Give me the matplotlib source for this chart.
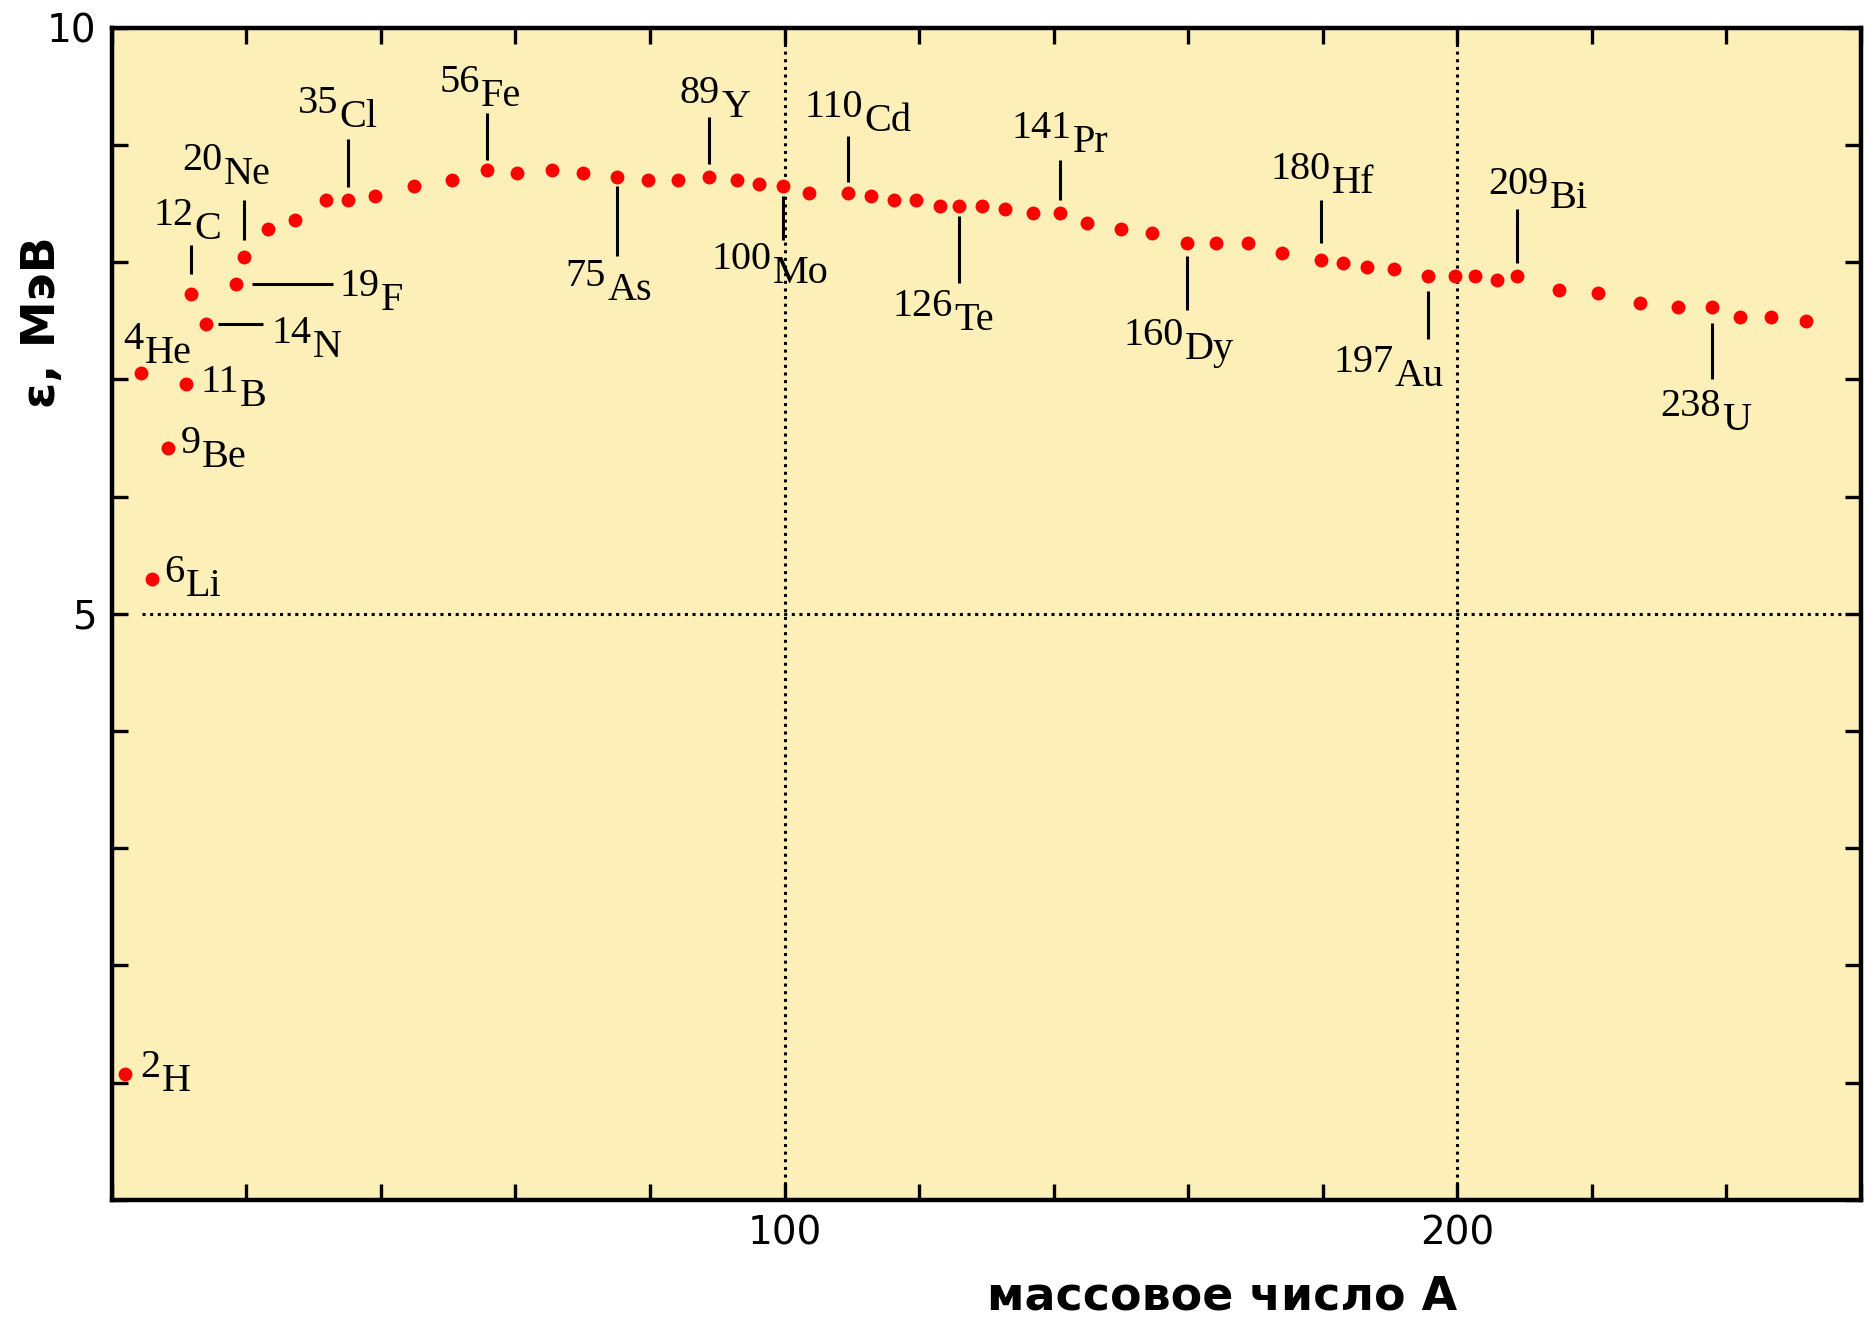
import matplotlib
matplotlib.use("Agg")
import matplotlib.pyplot as plt
from matplotlib.ticker import FixedLocator, FuncFormatter
from matplotlib.transforms import offset_copy

# ---- data: mass number A and binding energy per nucleon (MeV) ----
mass_number = [2.0, 4.3, 6.0, 8.3, 11.1, 11.8, 14.0, 18.5, 19.7, 23.2,
               27.2, 31.8, 35.1, 39.1, 44.9, 50.6, 55.7, 60.3, 65.4, 70.0,
               75.1, 79.7, 84.2, 88.8, 92.9, 96.2, 99.7, 103.7, 109.4, 112.8,
               116.3, 119.6, 123.1, 126.0, 129.4, 132.8, 136.9, 140.9, 144.9, 150.0,
               154.6, 159.8, 164.2, 168.9, 174.0, 179.7, 183.0, 186.5, 190.6, 195.7,
               199.7, 202.6, 205.9, 208.9, 215.1, 220.9, 227.1, 232.8, 237.9, 242.0,
               246.6, 251.8]
binding_energy = [1.07, 7.05, 5.30, 6.41, 6.96, 7.73, 7.47, 7.81, 8.04, 8.28,
                  8.36, 8.53, 8.53, 8.56, 8.65, 8.70, 8.79, 8.76, 8.79, 8.76,
                  8.73, 8.70, 8.70, 8.73, 8.70, 8.67, 8.65, 8.59, 8.59, 8.56,
                  8.53, 8.53, 8.48, 8.48, 8.48, 8.45, 8.42, 8.42, 8.33, 8.28,
                  8.25, 8.16, 8.16, 8.16, 8.08, 8.02, 7.99, 7.96, 7.94, 7.88,
                  7.88, 7.88, 7.85, 7.88, 7.76, 7.74, 7.65, 7.62, 7.62, 7.53,
                  7.53, 7.50]

# labelled nuclides (index into the arrays above)
label_index = [0, 1, 2, 3, 4, 5, 6, 7, 8, 12, 16, 20, 23, 26, 28, 33, 37, 41, 45, 49, 53, 58]
label_mass = ["2", "4", "6", "9", "11", "12", "14", "19", "20", "35", "56", "75",
              "89", "100", "110", "126", "141", "160", "180", "197", "209", "238"]
label_symbol = ["H", "He", "Li", "Be", "B", "C", "N", "F", "Ne", "Cl", "Fe", "As",
                "Y", "Mo", "Cd", "Te", "Pr", "Dy", "Hf", "Au", "Bi", "U"]

x_tick_labels = {100: "100", 200: "200"}
y_tick_labels = {5: "5", 10: "10"}

# ---- layout (offsets of label text and leader lines relative to the point) ----
label_offset = [(5.45, -0.14), (0.6, 0.09), (5.0, -0.145), (5.1, -0.16), (8.0, -0.19),
                (0.5, 0.47), (15.9, -0.28), (21.5, -0.22), (-3.0, 0.63), (-1.2, 0.62),
                (-0.8, 0.54), (-1.4, -1.05), (1.8, 0.51), (-1.4, -0.83), (2.5, 0.53),
                (-0.8, -1.06), (2.0, 0.52), (-0.3, -0.99), (1.6, 0.57), (-5.0, -0.94),
                (4.8, 0.58), (1.5, -1.05)]
leaders = [None, None, None, None, None,
           ("v", 0.17, 0.42), ("h", 1.8, 8.4), ("h", 2.3, 14.4), ("v", 0.15, 0.49),
           ("v", 0.11, 0.52), ("v", 0.08, 0.48), ("v", -0.08, -0.68), ("v", 0.11, 0.51),
           ("v", -0.09, -0.46), ("v", 0.09, 0.49), ("v", -0.09, -0.66), ("v", 0.11, 0.45),
           ("v", -0.11, -0.57), ("v", 0.14, 0.51), ("v", -0.13, -0.54), ("v", 0.11, 0.57),
           ("v", -0.14, -0.62)]

BG = "#fdefb8"
W, H = 1873, 1318
fig = plt.figure(figsize=(W / 100, H / 100), dpi=100)
fig.patch.set_facecolor("white")
ax = fig.add_axes([111.8 / W, 1 - 1199.7 / H, (1861 - 111.8) / W, (1199.7 - 27.7) / H])
ax.set_facecolor(BG)
ax.set_xlim(0, 260)
ax.set_ylim(0, 10)

# dotted reference lines
dot_style = dict(color="black", lw=2.2, ls=(0, (1, 1.5)), dash_capstyle="butt", zorder=1)
ax.axvline(100, **dot_style)
ax.axvline(200, **dot_style)
ax.plot([4.5, 260], [5, 5], **dot_style)

# points
ax.plot(mass_number, binding_energy, ls="none", marker="o", ms=10,
        mfc="#ff0000", mec="#ff0000", mew=0, zorder=3)

# labels
lab_font = dict(family=["Liberation Serif", "DejaVu Serif"], size=29, color="black")
sup_tr = offset_copy(ax.transData, fig=fig, x=-1, y=10, units="points")
for idx, m, s, (dx, dy), ld in zip(label_index, label_mass, label_symbol, label_offset, leaders):
    px, py = mass_number[idx], binding_energy[idx]
    tx, ty = px + dx, py + dy
    ax.text(tx, ty, s, ha="left", va="baseline", zorder=4, **lab_font)
    ax.text(tx, ty, m, ha="right", va="baseline", transform=sup_tr, zorder=4, **lab_font)
    if ld is not None:
        kind, a, b = ld
        if kind == "v":
            ax.plot([px, px], [py + a, py + b], color="black", lw=2.2, solid_capstyle="butt", zorder=2)
        else:
            ax.plot([px + a, px + b], [py, py], color="black", lw=2.2, solid_capstyle="butt", zorder=2)

# ticks
ax.xaxis.set_major_locator(FixedLocator(list(range(0, 261, 20))))
ax.yaxis.set_major_locator(FixedLocator(list(range(0, 11))))
ax.xaxis.set_major_formatter(FuncFormatter(lambda v, p: x_tick_labels.get(int(round(v)), "")))
ax.yaxis.set_major_formatter(FuncFormatter(lambda v, p: y_tick_labels.get(int(round(v)), "")))
ax.tick_params(which="both", direction="in", length=11.5, width=2.4, color="black",
               top=True, right=True, labelsize=28, pad=11)
for lab in ax.get_xticklabels() + ax.get_yticklabels():
    lab.set_family("DejaVu Sans")

for sp in ax.spines.values():
    sp.set_linewidth(3.2)
    sp.set_color("black")

fig.text(1222 / W, 1 - 1310 / H, "массовое число A", ha="center", va="baseline",
         fontsize=33, fontweight="bold", family="DejaVu Sans")
fig.text(43 / W, 1 - 322.5 / H, "ε, МэВ", rotation=90, ha="center", va="center",
         fontsize=34, fontweight="bold", family="DejaVu Sans")

fig.savefig("out.png", dpi=100, facecolor="white")
